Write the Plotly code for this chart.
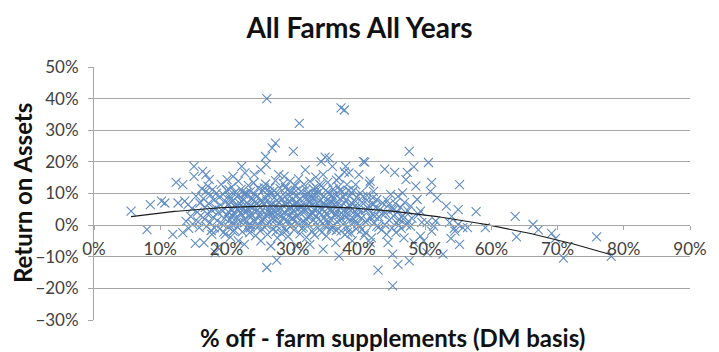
import numpy as np
import plotly.graph_objects as go

# Farm observations: (% of feed bought in off-farm, DM basis ; return on assets), both in percent.
band_05_16 = [(5.6,4.4),(8.0,-1.4),(8.5,6.5),(10.2,7.6),(10.7,7.0),(11.9,-2.9),(12.4,13.5),(12.7,7.0),
              (13.4,12.8),(13.4,-2.4),(13.7,7.6),(14.2,6.5),(13.9,1.2),(14.3,-1.0),(14.6,2.8),(14.8,5.3),
              (14.9,0.3),(15.1,18.6),(15.1,15.4),(15.3,-5.8),(15.4,9.2),(15.6,4.1),(15.7,1.0),(15.9,-0.8),
              (16.0,7.0),(16.1,3.0)]
band_16_20 = [(16.3,11.5),(16.4,17.0),(16.5,8.4),(16.6,-5.5),(16.7,1.9),(16.8,5.6),(16.9,16.0),(16.9,10.7),
              (17.0,-0.4),(17.1,3.6),(17.2,12.3),(17.3,6.9),(17.4,14.4),(17.5,0.8),(17.6,9.6),(17.7,-1.7),
              (17.8,4.7),(17.8,-2.9),(17.9,11.2),(18.0,2.5),(18.1,7.9),(18.2,-0.9),(18.3,-8.7),(18.4,5.4),
              (18.5,10.1),(18.6,1.4),(18.7,-7.1),(18.8,3.9),(18.9,8.8),(19.0,-1.2),(19.1,6.3),(19.2,12.9),
              (19.3,0.5),(19.4,4.4),(19.5,9.7),(19.6,-2.2),(19.7,2.1),(19.8,-2.9),(19.9,7.4),(20.0,11.0)]
band_20_25 = [(20.1,14.4),(20.1,3.2),(20.2,-0.5),(20.3,6.6),(20.4,9.3),(20.5,1.7),(20.6,-3.8),(20.7,5.1),
              (20.8,12.1),(20.9,0.2),(21.0,15.4),(21.0,7.8),(21.1,3.9),(21.2,-1.6),(21.3,10.4),(21.4,5.7),
              (21.5,2.3),(21.6,8.9),(21.7,-0.6),(21.8,13.9),(21.8,-5.0),(21.9,4.6),(22.0,6.9),(22.1,1.2),
              (22.2,11.3),(22.3,18.6),(22.3,3.4),(22.4,-2.1),(22.5,8.2),(22.6,5.2),(22.7,-6.1),(22.8,16.5),
              (22.8,0.7),(22.9,9.8),(23.0,4.1),(23.1,7.1),(23.2,-1.1),(23.3,12.6),(23.4,2.8),(23.5,-2.4),
              (23.5,6.0),(23.6,10.6),(23.7,3.6),(23.8,-0.1),(23.9,8.5),(24.0,5.5),(24.1,13.4),(24.2,16.0),
              (24.2,1.5),(24.3,7.3),(24.4,-3.3),(24.5,4.3),(24.6,9.1),(24.7,0.4),(24.8,11.7),(24.9,6.2),
              (25.0,2.6)]
band_25_30 = [(25.1,-1.8),(25.2,17.5),(25.2,-5.0),(25.3,8.0),(25.4,4.8),(25.5,10.9),(25.6,1.9),(25.7,6.5),
              (25.8,-0.7),(25.9,21.7),(25.9,13.0),(26.0,19.1),(26.0,3.1),(26.1,40.0),(26.1,7.7),(26.1,-13.4),
              (26.2,-2.9),(26.3,9.4),(26.4,5.0),(26.5,0.9),(26.6,12.0),(26.7,-6.6),(26.7,3.8),(26.8,6.8),
              (26.9,24.4),(26.9,10.2),(27.0,-1.3),(27.1,4.5),(27.2,8.6),(27.3,1.6),(27.4,25.9),(27.4,14.1),
              (27.5,6.1),(27.6,-11.1),(27.6,-0.2),(27.7,-4.0),(27.7,9.9),(27.8,3.4),(27.9,16.0),(27.9,7.3),
              (28.0,0.5),(28.1,11.6),(28.2,5.4),(28.3,-2.6),(28.4,8.3),(28.5,2.2),(28.6,13.1),(28.7,15.4),
              (28.7,4.0),(28.8,-0.9),(28.9,9.0),(29.0,6.4),(29.1,1.3),(29.2,11.1),(29.3,-3.6),(29.4,7.5),
              (29.5,3.0),(29.6,13.9),(29.6,-0.4),(29.7,5.8),(29.8,10.5),(29.9,1.9),(30.0,8.1)]
band_30_35 = [(30.1,23.3),(30.1,4.7),(30.2,-1.5),(30.3,12.6),(30.4,6.7),(30.4,12.3),(30.5,2.7),(30.6,-6.6),
              (30.6,9.4),(30.7,0.6),(30.8,5.3),(30.9,14.6),(31.0,32.2),(31.0,7.9),(31.1,-2.8),(31.2,3.7),
              (31.3,10.7),(31.4,1.0),(31.5,6.0),(31.6,-0.6),(31.7,12.9),(31.8,4.3),(31.9,17.5),(31.9,8.6),
              (32.0,2.0),(32.1,-3.9),(32.2,10.0),(32.3,5.6),(32.4,0.1),(32.5,7.1),(32.6,-6.1),(32.6,13.8),
              (32.7,3.2),(32.8,9.0),(32.9,-1.9),(33.0,6.4),(33.1,11.5),(33.1,1.5),(33.2,4.9),(33.3,-3.1),
              (33.4,8.3),(33.5,15.2),(33.6,11.8),(33.6,2.8),(33.7,6.9),(33.8,-0.8),(33.9,10.3),(34.0,4.0),
              (34.1,7.6),(34.2,1.2),(34.3,12.4),(34.3,20.1),(34.4,-2.3),(34.5,5.1),(34.6,16.0),(34.6,-7.6),
              (34.7,9.2),(34.8,2.4),(34.9,21.5),(34.9,6.3),(35.0,-0.3),(35.0,11.0)]
band_35_40 = [(35.1,-3.5),(35.1,3.6),(35.2,8.0),(35.3,13.5),(35.4,0.4),(35.5,21.2),(35.5,5.7),(35.6,9.9),
              (35.7,2.0),(35.8,-1.3),(35.9,7.2),(36.0,18.6),(36.0,4.4),(36.1,11.4),(36.2,-0.2),(36.3,6.6),
              (36.4,2.9),(36.5,-5.5),(36.5,9.6),(36.6,14.2),(36.7,1.1),(36.8,5.0),(36.9,12.1),(37.0,14.9),
              (37.0,-9.8),(37.1,3.3),(37.2,8.4),(37.3,37.1),(37.3,-1.9),(37.4,6.1),(37.5,10.6),(37.6,0.3),
              (37.7,4.6),(37.8,36.4),(37.8,16.8),(37.9,-3.0),(38.0,18.6),(38.0,7.8),(38.1,2.5),(38.2,12.8),
              (38.3,-0.7),(38.4,5.3),(38.5,16.5),(38.6,9.1),(38.7,1.6),(38.8,-2.5),(38.9,7.0),(39.0,-5.0),
              (39.1,3.9),(39.2,11.0),(39.3,0.9),(39.4,6.0),(39.5,12.8),(39.6,-1.2),(39.7,8.8),(39.8,3.0),
              (40.0,16.0),(40.0,5.4)]
band_40_45 = [(40.1,-0.1),(40.2,10.1),(40.4,2.3),(40.5,7.3),(40.7,20.1),(40.8,-3.3),(40.9,19.9),(41.0,4.7),
              (41.0,-2.4),(41.2,9.4),(41.3,1.4),(41.5,6.2),(41.6,13.0),(41.7,13.9),(41.7,-5.5),(41.9,-4.0),
              (42.0,3.5),(42.1,8.6),(42.2,10.7),(42.3,0.6),(42.5,5.6),(42.7,8.1),(42.7,-0.3),(42.9,-14.2),
              (43.0,2.7),(43.2,5.0),(43.4,-1.5),(43.6,7.0),(43.9,17.7),(43.9,0.2),(44.0,3.8),(44.2,-2.9),
              (44.4,-5.5),(44.5,6.4),(44.6,1.6),(44.8,9.7),(44.9,4.9),(45.0,-0.9)]
band_45_50 = [(45.1,-19.2),(45.1,-9.2),(45.2,2.9),(45.4,16.7),(45.5,6.9),(45.6,-2.4),(45.7,0.7),(45.8,4.1),
              (45.9,9.1),(45.9,-12.4),(46.1,1.8),(46.3,5.6),(46.4,-1.0),(46.6,10.2),(46.6,3.1),(46.8,-4.0),
              (46.9,7.2),(47.1,14.4),(47.2,0.1),(47.3,16.7),(47.4,4.5),(47.6,23.3),(47.6,-11.3),(47.8,6.0),
              (47.8,-0.3),(48.0,2.2),(48.3,18.4),(48.3,-5.5),(48.6,12.3),(48.8,8.1),(49.0,3.4),(49.3,4.4),
              (49.3,-3.5),(49.5,0.9),(49.8,-5.0)]
band_50_80 = [(50.3,0.8),(50.3,-8.7),(50.5,19.8),(50.8,10.7),(51.0,13.5),(51.0,-1.9),(51.3,-0.3),(51.6,1.3),
              (51.8,8.6),(52.7,-9.2),(53.2,6.0),(53.7,0.8),(53.9,-4.2),(54.0,2.8),(54.4,-1.0),(54.5,-1.9),
              (55.0,4.9),(55.0,0.2),(55.2,12.8),(55.2,-6.1),(55.7,-0.8),(56.4,-0.8),(57.7,4.3),(59.1,-0.8),
              (63.6,2.8),(63.8,-3.7),(66.3,0.2),(67.1,-1.5),(69.1,-2.6),(69.7,-4.2),(70.9,-10.4),(75.9,-3.7),
              (78.1,-9.9)]
# the crowded middle of the distribution (20-47% bought-in feed, ROA around 0-12%)
core_20_47 = [(20.3,4.2),(20.6,8.1),(20.9,2.9),(21.2,6.1),(21.5,0.9),(21.8,9.4),(22.1,3.8),(22.4,7.4),
              (22.7,1.9),(23.0,10.2),(23.3,5.1),(23.6,-0.9),(23.9,3.0),(24.2,9.9),(24.5,6.8),(24.8,-0.5),
              (25.1,3.7),(25.4,7.1),(25.7,11.8),(26.0,0.1),(26.3,4.1),(26.6,6.2),(26.9,2.1),(27.2,10.9),
              (27.5,-2.0),(27.8,5.0),(28.1,8.8),(28.4,3.1),(28.7,6.9),(29.0,-1.8),(29.3,4.6),(29.6,9.2),
              (29.9,0.2),(30.2,6.0),(30.5,10.8),(30.8,3.0),(31.1,8.4),(31.4,-1.1),(31.7,5.1),(32.0,11.3),
              (32.3,2.5),(32.6,7.7),(32.9,4.1),(33.2,9.7),(33.5,0.9),(33.8,5.8),(34.1,12.9),(34.4,3.4),
              (34.7,7.0),(35.0,1.4),(35.3,10.4),(35.6,4.7),(35.9,-0.6),(36.2,8.2),(36.5,3.6),(36.8,6.4),
              (37.1,11.1),(37.4,1.9),(37.7,8.9),(38.0,4.0),(38.3,-2.2),(38.6,6.2),(38.9,10.3),(39.2,2.0),
              (39.5,7.5),(39.8,0.4),(40.2,4.3),(40.6,9.0),(41.0,1.0),(41.4,5.2),(41.8,2.4),(42.2,6.6),
              (20.4,11.2),(21.0,-1.9),(21.9,5.6),(22.6,9.9),(23.4,0.2),(24.0,7.9),(24.7,4.8),(25.3,1.1),
              (25.9,8.7),(26.5,10.6),(27.0,3.6),(27.6,7.9),(28.2,1.0),(28.9,11.9),(29.4,5.3),(30.0,2.4),
              (30.6,7.3),(31.2,5.7),(31.8,0.9),(32.4,8.8),(33.0,3.6),(33.6,9.9),(34.2,5.5),(34.8,0.0),
              (35.4,6.8),(36.0,9.3),(36.6,-1.7),(37.2,5.6),(37.8,2.9),(38.4,10.9),(39.0,5.1),(39.6,3.9),
              (40.4,-1.4),(41.2,7.9),(42.4,2.8),(43.0,-0.6),(43.5,3.5),(44.3,7.7),(45.3,5.0),(46.0,-0.1),
              (46.7,2.0),(47.5,1.2)]

x_ticks = [0, 0.1, 0.2, 0.3, 0.4, 0.5, 0.6, 0.7, 0.8, 0.9]
y_ticks = [-0.3, -0.2, -0.1, 0.0, 0.1, 0.2, 0.3, 0.4, 0.5]

bands = [band_05_16, band_16_20, band_20_25, band_25_30, band_30_35,
         band_35_40, band_40_45, band_45_50, band_50_80, core_20_47]
pts = np.array([p for b in bands for p in b]) / 100.0
supp, roa = pts[:, 0], pts[:, 1]

# second-order polynomial trend line across the observed range
coef = np.polyfit(supp, roa, 2)
tx = np.linspace(supp.min(), supp.max(), 200)
ty = np.polyval(coef, tx)

W, H = 719, 352
L, R, T, B = 94, 16, 67, 32
pw, ph = W - L - R, H - T - B

fig = go.Figure()
fig.add_trace(go.Scatter(
    x=supp, y=roa, mode="markers",
    marker=dict(symbol="x-thin", size=9, line=dict(width=1.1, color="#4f81bd")),
    opacity=0.9, hoverinfo="skip", showlegend=False))
fig.add_trace(go.Scatter(
    x=tx, y=ty, mode="lines", line=dict(color="#1a1a1a", width=1.1),
    hoverinfo="skip", showlegend=False))

tick_font = dict(family="Lato", size=17, color="#404040")
fig.update_layout(
    width=W, height=H, margin=dict(l=L, r=R, t=T, b=B),
    paper_bgcolor="white", plot_bgcolor="white",
    title=dict(text="<b>All Farms All Years</b>", x=0.5, xanchor="center",
               y=1 - 28 / H, yanchor="middle", yref="container",
               font=dict(family="Lato", size=28, color="#111111")),
    xaxis=dict(range=[0, 0.9], tickvals=x_ticks, tickformat=".0%",
               showgrid=False, zeroline=False, showline=True, linecolor="#a6a6a6",
               linewidth=1, ticks="outside", ticklen=4, tickcolor="#a6a6a6",
               anchor="free", position=0.375, ticklabelstandoff=4,
               ticklabeloverflow="allow", tickfont=tick_font),
    yaxis=dict(range=[-0.3, 0.5], tickvals=y_ticks, tickformat=".0%",
               showgrid=True, gridcolor="#a6a6a6", gridwidth=1, zeroline=False,
               showline=True, linecolor="#a6a6a6", linewidth=1,
               ticks="outside", ticklen=5, tickcolor="#a6a6a6",
               ticklabelstandoff=6, tickfont=tick_font),
)
fig.add_annotation(text="<b>Return on Assets</b>", xref="paper", yref="paper",
                   x=(21 - L) / pw, y=0.5, textangle=-90, showarrow=False,
                   xanchor="center", yanchor="middle",
                   font=dict(family="Lato", size=24, color="#111111"))
fig.add_annotation(text="<b>% off - farm supplements (DM basis)</b>", xref="paper", yref="paper",
                   x=0.5, y=-(337 - (H - B)) / ph, showarrow=False,
                   xanchor="center", yanchor="middle",
                   font=dict(family="Lato", size=24, color="#111111"))

fig.write_html("out.html")
